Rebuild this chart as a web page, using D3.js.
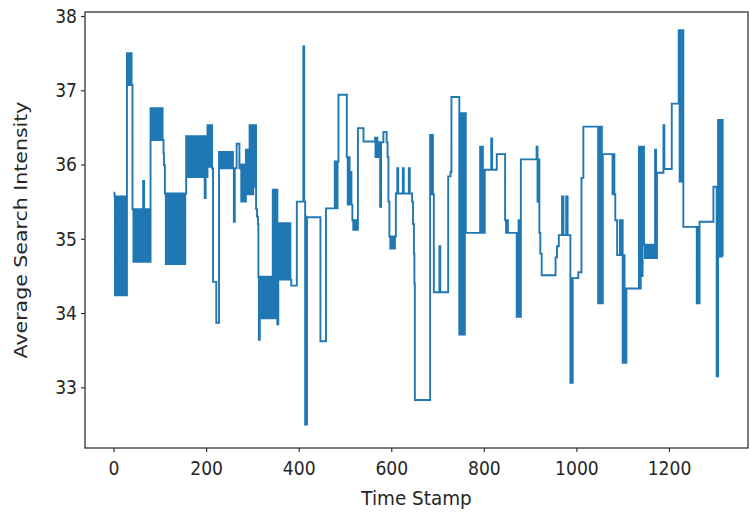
<!DOCTYPE html>
<html>
<head>
<meta charset="utf-8">
<script src="https://cdn.jsdelivr.net/npm/d3@7"></script>
<style>
  html, body { margin: 0; padding: 0; background: #fff; }
  svg { display: block; }
  text { font-family: "DejaVu Sans", sans-serif; fill: #262626; }
</style>
</head>
<body>
<svg id="chart" width="750" height="515"></svg>
<script>
// ---- data ----
const xTicks = [0, 200, 400, 600, 800, 1000, 1200];
const yTicks = [33, 34, 35, 36, 37, 38];
const xLabel = "Time Stamp";
const yLabel = "Average Search Intensity";

// [time stamp, average search intensity] — step points
const searchIntensity = [
  [0,35.62],[2,35.58],
  [3,34.24],[5,35.57],[7,34.24],[9,35.57],[11,34.24],[13,35.57],[15,34.24],[17,35.57],[19,34.24],[21,35.57],[23,34.24],[25,35.57],[27,34.24],
  [29,37.5],[31,37.07],[33,37.5],[35,37.07],[37,37.5],[39,37.07],
  [41,35.40],[43,34.69],[45,35.40],[47,34.69],[49,35.40],[51,34.69],[53,35.40],[55,34.69],[57,35.40],[59,34.69],[61,35.40],[63,34.69],[64,35.78],[66,34.69],[68,35.40],[70,34.69],[72,35.40],[74,34.69],[76,35.40],[78,34.69],
  [80,36.76],[82,36.33],[84,36.76],[86,36.33],[88,36.76],[90,36.33],[92,36.76],[94,36.33],[96,36.76],[98,36.33],[100,36.76],[102,36.33],[104,36.76],[106,36.33],
  [108,36.15],[109,35.99],
  [111,35.61],[113,34.66],[115,35.61],[117,34.66],[119,35.61],[121,34.66],[123,35.61],[125,34.66],[127,35.61],[129,34.66],[131,35.61],[133,34.66],[135,35.61],[137,34.66],[139,35.61],[141,34.66],[143,35.61],[145,34.66],[147,35.61],[149,34.66],[151,35.61],[153,34.66],[155,35.61],
  [157,36.38],[159,35.83],[161,36.38],[163,35.83],[165,36.38],[167,35.83],[169,36.38],[171,35.83],[173,36.38],[175,35.83],[177,36.38],[179,35.83],[181,36.38],[183,35.83],[185,36.38],[187,35.83],[189,36.38],[191,35.83],[193,36.38],[195,35.83],[197,35.55],[199,36.38],[201,35.83],
  [203,36.53],[205,35.97],[207,36.53],[209,35.97],[211,36.53],[213,35.95],
  [215,34.42],[222,33.87],
  [228,36.17],[230,35.95],[232,36.17],[234,35.95],[236,36.17],[238,35.95],[240,36.17],[242,35.95],[244,36.17],[246,35.95],[248,36.17],[250,35.95],[252,36.17],[254,35.95],[256,36.17],[258,35.95],
  [260,35.23],[262,35.95],[266,36.28],[272,35.95],[274,36.0],[276,35.5],[278,36.0],[280,35.5],[282,36.0],[284,35.5],[286,36.2],[288,35.6],[290,36.2],[292,35.6],[294,36.53],[296,35.6],[298,36.53],[300,35.6],[302,36.53],[304,35.7],[306,36.53],[308,35.4],[310,35.3],[312,35.2],
  [313,34.49],[314,33.64],[316,34.49],[318,33.93],[320,34.49],[322,33.93],[324,34.49],[326,33.93],[328,34.49],[330,33.93],[332,34.49],[334,33.93],[336,34.49],[338,33.93],[340,34.49],[342,33.93],
  [344,35.66],[346,33.93],[350,35.66],[354,33.85],
  [356,35.21],[358,34.45],[360,35.21],[362,34.45],[364,35.21],[366,34.45],[368,35.21],[370,34.45],[372,35.21],[374,34.45],[376,35.21],[378,34.45],[380,35.21],[382,34.45],[384,34.37],
  [396,35.50],[410,37.59],[412,35.5],[414,32.5],[415,35.3],[416,32.5],[418,35.29],
  [447,33.62],[459,35.41],[478,36.04],[479,35.41],[480,36.04],[481,35.41],[482,36.04],[483,35.41],[484,36.04],
  [486,36.94],[504,36.10],[506,35.46],[508,36.1],[510,35.46],[512,35.9],[514,35.46],
  [516,35.25],[518,35.12],[520,35.25],[522,35.12],[524,35.25],[526,35.12],
  [528,36.49],[540,36.31],[565,36.36],[566,36.1],[567,36.36],[568,36.1],[569,36.36],[570,36.1],[572,36.3],[576,35.43],[578,36.3],[583,36.44],[590,36.3],[592,36.1],[594,35.5],
  [596,35.03],[598,34.87],[600,35.03],[602,34.87],[604,35.03],[606,34.87],[608,35.03],
  [610,35.61],[613,35.95],[615,35.61],[625,35.95],[627,35.61],[638,35.95],[640,35.61],
  [645,35.5],[647,35.2],[649,34.8],[650,34.4],[651,32.83],
  [684,36.40],[686,35.6],[688,36.40],[690,35.6],[692,34.28],[704,34.90],[706,34.28],
  [723,35.84],[728,35.9],[730,36.91],[747,33.71],[751,36.69],[753,33.71],[755,36.69],[757,33.71],[759,36.69],
  [761,35.08],[792,36.24],[794,35.08],[796,36.24],[798,35.08],[802,35.93],[816,36.35],[818,35.93],[828,36.14],
  [846,35.25],[848,35.08],[850,35.25],[852,35.08],[871,33.95],[873,35.08],[875,35.25],[877,33.95],
  [880,36.07],[914,36.24],[916,35.5],[918,36.07],[920,35.08],[922,34.8],[925,34.51],
  [955,34.75],[958,34.9],[962,35.05],[969,35.57],[972,35.05],[978,35.57],[981,35.05],
  [987,33.06],[989,34.47],[990,33.06],[992,34.47],[1004,34.55],[1011,35.82],[1015,36.51],
  [1047,34.13],[1049,36.51],[1051,34.13],[1053,36.51],[1055,34.13],
  [1057,36.14],[1078,35.6],[1080,36.14],[1082,35.6],[1084,35.25],[1088,34.78],[1094,35.25],[1096,34.78],[1098,35.25],
  [1100,33.33],[1102,34.78],[1104,33.33],[1108,34.33],
  [1135,36.24],[1137,34.33],[1139,36.24],[1141,34.5],[1143,36.24],
  [1146,34.92],[1148,34.74],[1150,34.92],[1152,34.74],[1154,34.92],[1156,34.74],[1158,34.92],[1160,34.74],[1162,34.92],[1164,34.74],[1166,34.92],[1168,34.74],
  [1170,36.20],[1172,34.74],[1174,35.89],[1188,36.53],[1190,35.94],[1206,36.82],
  [1221,37.81],[1223,35.77],[1225,37.81],[1227,35.77],[1229,37.81],[1231,35.16],
  [1260,34.13],[1262,35.16],[1264,34.13],[1266,35.23],[1296,35.70],
  [1303,33.15],[1304,35.7],[1305,33.15],[1306,36.60],[1308,34.76],[1310,36.60],[1312,34.76],[1314,36.60],[1316,34.76]
];

// ---- layout ----
const svg = d3.select("#chart");
const plot = { left: 85, right: 748, top: 12, bottom: 448 };

const x = d3.scaleLinear().domain([-61.6, 1370.7]).range([plot.left, plot.right]);
const y = d3.scaleLinear().domain([32.183, 38.054]).range([plot.bottom, plot.top]);

// line
const line = d3.line()
  .x(d => x(d[0]))
  .y(d => y(d[1]))
  .curve(d3.curveStepAfter);

svg.append("path")
  .datum(searchIntensity)
  .attr("d", line)
  .attr("fill", "none")
  .attr("stroke", "#1f77b4")
  .attr("stroke-width", 1.9)
  .attr("stroke-linejoin", "miter");

// axes
const tickSX = 0.88;
const xAxis = d3.axisBottom(x).tickValues(xTicks).tickSize(4).tickPadding(9).tickFormat(d3.format("d"));
const yAxis = d3.axisLeft(y).tickValues(yTicks).tickSize(4).tickPadding(4).tickFormat(d3.format("d"));

const gx = svg.append("g").attr("transform", `translate(0,${plot.bottom})`).call(xAxis);
const gy = svg.append("g").attr("transform", `translate(${plot.left},0)`).call(yAxis);
[gx, gy].forEach(g => {
  g.select(".domain").remove();
  g.selectAll(".tick line").attr("stroke", "#333").attr("stroke-width", 1.2);
  g.selectAll(".tick text").attr("font-size", 19.5).attr("fill", "#262626")
    .style("font-family", "DejaVu Sans");
});
gx.selectAll(".tick text").each(function() {
  const t = d3.select(this);
  const yy = +t.attr("y");
  t.attr("transform", `translate(0,${yy}) scale(${tickSX},1)`).attr("x", 0).attr("y", 0).attr("dy", "0.71em");
});
gy.selectAll(".tick text").each(function() {
  const t = d3.select(this);
  t.attr("transform", `translate(-8,0) scale(${tickSX},1)`).attr("x", 0);
});

// frame
svg.append("rect")
  .attr("x", plot.left).attr("y", plot.top)
  .attr("width", plot.right - plot.left).attr("height", plot.bottom - plot.top)
  .attr("fill", "none").attr("stroke", "#333").attr("stroke-width", 1.3);

// labels
svg.append("text")
  .attr("transform", `translate(${(plot.left + plot.right) / 2},505) scale(0.92,1)`)
  .attr("text-anchor", "middle")
  .attr("font-size", 20)
  .text(xLabel);

svg.append("text")
  .attr("transform", `translate(27,${(plot.top + plot.bottom) / 2}) rotate(-90) scale(1,0.9)`)
  .attr("text-anchor", "middle")
  .attr("font-size", 20.5)
  .text(yLabel);
</script>
</body>
</html>
